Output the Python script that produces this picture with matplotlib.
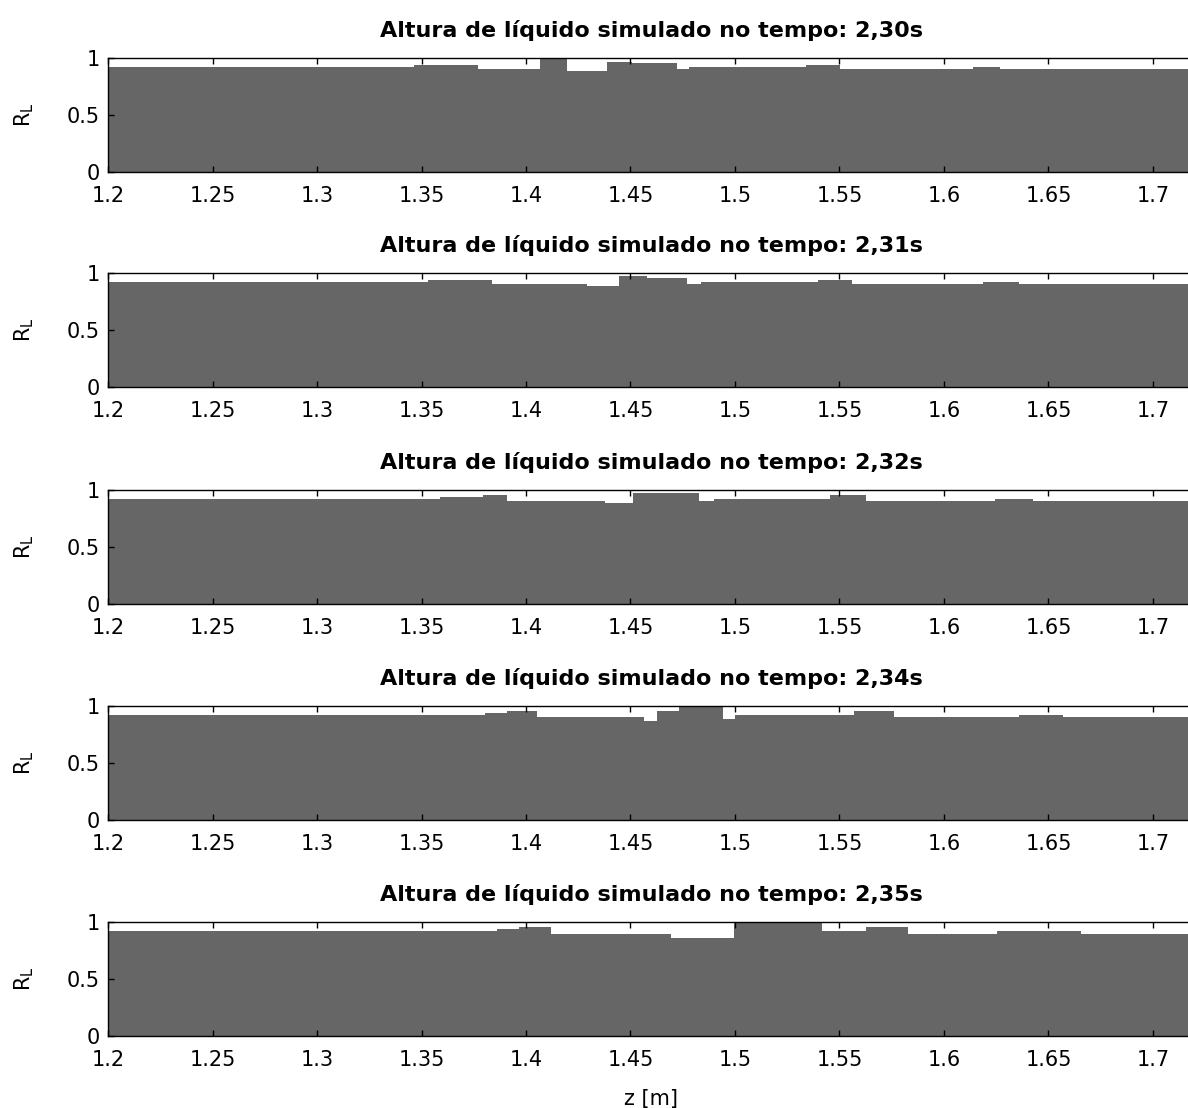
"""
Liquid holdup profile R_L along the pipe at five simulated times,
drawn as filled step profiles (one cell value per mesh interval).
"""

import matplotlib
matplotlib.use("Agg")
import matplotlib.pyplot as plt

plt.rcParams["font.family"] = ["DejaVu Sans"]
plt.rcParams["mathtext.default"] = "regular"

# --- simulated holdup, cell edges [m] and cell values per time ---------
times = ["2,30", "2,31", "2,32", "2,34", "2,35"]

edges_230 = [1.2, 1.3464, 1.377, 1.4069, 1.4195, 1.4388, 1.4505, 1.4722,
             1.478, 1.5338, 1.5502, 1.6137, 1.627, 1.72]
rl_230 = [0.923, 0.942, 0.902, 1.0, 0.886, 0.969, 0.96, 0.902, 0.923,
          0.938, 0.902, 0.923, 0.902]

edges_231 = [1.2, 1.3531, 1.3839, 1.4292, 1.4447, 1.458, 1.4772, 1.4839,
             1.5397, 1.5561, 1.6188, 1.6359, 1.72]
rl_231 = [0.92, 0.942, 0.902, 0.883, 0.972, 0.957, 0.905, 0.92, 0.942,
          0.905, 0.923, 0.905]

edges_232 = [1.2, 1.359, 1.3792, 1.391, 1.438, 1.4513, 1.4828, 1.4898,
             1.5455, 1.5628, 1.6244, 1.6426, 1.72]
rl_232 = [0.92, 0.938, 0.957, 0.902, 0.883, 0.975, 0.902, 0.92, 0.957,
          0.902, 0.92, 0.902]

edges_234 = [1.2, 1.3804, 1.391, 1.4052, 1.4565, 1.4626, 1.473, 1.4944,
             1.5002, 1.5569, 1.5763, 1.6359, 1.6568, 1.72]
rl_234 = [0.92, 0.938, 0.957, 0.902, 0.868, 0.96, 1.0, 0.883, 0.92,
          0.957, 0.902, 0.92, 0.902]

edges_235 = [1.2, 1.3859, 1.3968, 1.4119, 1.4693, 1.4994, 1.5415, 1.5628,
             1.583, 1.6255, 1.6656, 1.72]
rl_235 = [0.917, 0.935, 0.957, 0.898, 0.862, 1.0, 0.917, 0.957, 0.898,
          0.917, 0.898]

profiles = [(edges_230, rl_230), (edges_231, rl_231), (edges_232, rl_232),
            (edges_234, rl_234), (edges_235, rl_235)]

xticks = [1.2, 1.25, 1.3, 1.35, 1.4, 1.45, 1.5, 1.55, 1.6, 1.65, 1.7]
xtick_labels = ["1.2", "1.25", "1.3", "1.35", "1.4", "1.45", "1.5",
                "1.55", "1.6", "1.65", "1.7"]
yticks = [0, 0.5, 1]
ytick_labels = ["0", "0.5", "1"]

W, H = 1188, 1108
fig = plt.figure(figsize=(W / 100, H / 100), dpi=100)

x0_px = 108
px_per_m = 2090
xmax = 1.72
ax_w = (xmax - 1.2) * px_per_m / W
tops_px = [58, 273, 490, 706, 922]
ax_h_px = 114

axes = []
for k, (edges, rl) in enumerate(profiles):
    top = tops_px[k]
    ax = fig.add_axes([x0_px / W, 1 - (top + ax_h_px) / H, ax_w, ax_h_px / H])
    ax.stairs(rl, edges, fill=True, color="#666666", baseline=0, lw=0)
    ax.set_xlim(1.2, xmax)
    ax.set_ylim(0, 1)
    ax.set_xticks(xticks)
    ax.set_xticklabels(xtick_labels)
    ax.set_yticks(yticks)
    ax.set_yticklabels(ytick_labels)
    ax.tick_params(direction="in", length=4, width=1, top=True, right=True,
                   labelsize=15, colors="black")
    ax.tick_params(axis="x", pad=10)
    ax.tick_params(axis="y", pad=6)
    for s in ax.spines.values():
        s.set_linewidth(1.0)
    ax.set_title(f"Altura de líquido simulado no tempo: {times[k]}s",
                 fontsize=16, fontweight="bold", pad=15)
    ax.set_ylabel("$R_L$", fontsize=15, labelpad=22)
    axes.append(ax)

axes[-1].set_xlabel("z [m]", fontsize=15, labelpad=14)

fig.savefig("out.png", dpi=100)
